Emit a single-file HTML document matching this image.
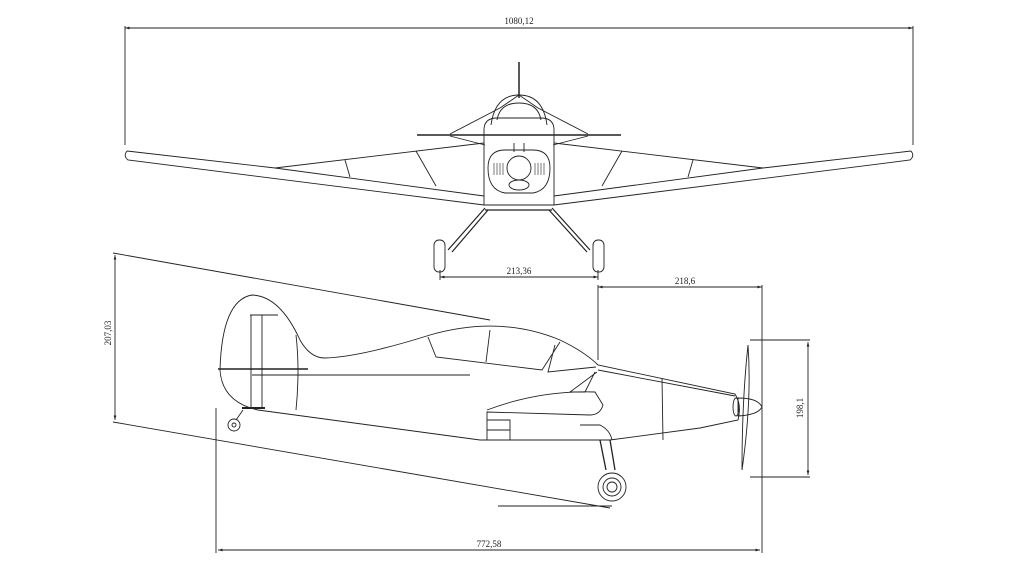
<!DOCTYPE html>
<html><head><style>html,body{margin:0;background:#fff}svg{display:block}</style></head>
<body>
<svg width="1024" height="581" viewBox="0 0 1024 581" xmlns="http://www.w3.org/2000/svg" font-family="Liberation Serif, serif" font-size="9">
<defs><marker id="a" viewBox="0 0 10 10" refX="10" refY="5" markerWidth="7" markerHeight="5" orient="auto-start-reverse"><path d="M0,2 L10,5 L0,8z" fill="#222"/></marker></defs>
<g fill="none" stroke="#222" stroke-width="0.9">
<!-- top dim -->
<line x1="125" y1="28" x2="913" y2="28" marker-start="url(#a)" marker-end="url(#a)"/>
<line x1="125" y1="26" x2="125" y2="145"/><line x1="913" y1="26" x2="913" y2="145"/>
<!-- wings front -->
<path d="M127,151 L275,168 L484,143 M127,151 Q123,156 128,160 L484,205"/>
<path d="M911,151 L763,168 L554,143 M911,151 Q915,156 910,160 L554,205"/>
<path d="M275,168 L484,196 M763,168 L554,196"/>
<line x1="345" y1="160" x2="350" y2="177"/><line x1="416" y1="151" x2="436" y2="186"/>
<line x1="693" y1="160" x2="688" y2="177"/><line x1="622" y1="151" x2="602" y2="186"/>
<!-- stab and fin -->
<line x1="417" y1="135" x2="621" y2="135" stroke-width="1.6"/>
<line x1="519" y1="62" x2="519" y2="98" stroke-width="1.5"/>
<path d="M450,134 L500,108 L519,95 L538,108 L588,134 M450,136 L485,145 M588,136 L553,145"/>
<path d="M491,125 Q495,95 519,95 Q543,95 547,125 M497,120 Q500,103 519,103 Q538,103 541,120"/>
<!-- fuselage front -->
<path d="M484,130 Q484,118 497,118 L541,118 Q554,118 554,130 L554,205 L484,205 Z"/>
<path d="M488,168 Q488,150 505,150 L533,150 Q550,150 550,168 Q550,190 533,193 L505,193 Q488,190 488,168Z"/>
<line x1="514" y1="143" x2="514" y2="152"/><line x1="524" y1="143" x2="524" y2="152"/>
<circle cx="519" cy="168" r="12"/>
<ellipse cx="519" cy="185" rx="10" ry="5"/>
<g stroke-width="0.6"><path d="M494,163 v12 M497,163 v12 M500,163 v12 M503,163 v12 M535,163 v12 M538,163 v12 M541,163 v12 M544,163 v12"/></g>
<!-- gear front -->
<line x1="485" y1="210" x2="552" y2="210" stroke-width="1.3"/>
<path d="M485,208 L448,250 M488,210 L452,252 M552,208 L590,250 M549,210 L587,252" stroke-width="1.2"/>
<rect x="434" y="240" width="11" height="32" rx="5"/><rect x="593" y="240" width="11" height="32" rx="5"/>
<line x1="440" y1="277" x2="598" y2="277" marker-start="url(#a)" marker-end="url(#a)"/>
<line x1="440" y1="270" x2="440" y2="280"/><line x1="598" y1="270" x2="598" y2="280"/>
<!-- side view dims -->
<line x1="113" y1="253" x2="490" y2="320"/><line x1="113" y1="422" x2="610" y2="508"/>
<line x1="115" y1="255" x2="115" y2="420" marker-start="url(#a)" marker-end="url(#a)"/>
<line x1="598" y1="287" x2="762" y2="287" marker-start="url(#a)" marker-end="url(#a)"/>
<line x1="598" y1="285" x2="598" y2="360"/><line x1="762" y1="285" x2="762" y2="553"/>
<line x1="750" y1="340" x2="810" y2="340"/><line x1="750" y1="477" x2="810" y2="477"/>
<line x1="808" y1="342" x2="808" y2="475" marker-start="url(#a)" marker-end="url(#a)"/>
<line x1="216" y1="408" x2="216" y2="553"/>
<line x1="218" y1="550" x2="760" y2="550" marker-start="url(#a)" marker-end="url(#a)"/>
<line x1="498" y1="506" x2="612" y2="506"/>
<!-- side fuselage -->
<path d="M258,410 Q222,402 220,370 Q222,300 252,295 Q280,296 300,340 Q310,358 325,358 Q360,357 430,335 Q500,315 560,340 Q585,352 598,365 L735,394 Q742,405 738,420 L700,428 L610,440 L480,440 Z"/>
<path d="M250,315 L278,315 M251,315 L251,408 M262,315 L262,408 M296,335 Q300,370 296,410"/>
<line x1="218" y1="369" x2="308" y2="369" stroke-width="1.6"/>
<line x1="252" y1="375" x2="470" y2="375"/>
<path d="M428,337 L436,357 L542,370 L560,342 M490,330 L486,362 M555,345 L548,372 L596,367"/>
<path d="M598,370 L735,396 M662,378 L663,440 M597,372 L570,392 L585,392 L595,372"/>
<path d="M487,410 Q540,390 595,392 L603,405 Q600,415 590,415 L487,412 L487,440 M487,420 L510,420 L510,440 M487,430 L510,430 M580,425 L600,425 Q610,430 612,440"/>
<path d="M242,408 L265,408" stroke-width="2"/>
<path d="M243,410 L236,420" /><circle cx="234" cy="425" r="6"/><circle cx="234" cy="425" r="2"/>
<path d="M600,440 L606,470 M610,440 L615,470" stroke-width="1.3"/>
<circle cx="612" cy="487" r="14"/><circle cx="612" cy="487" r="9"/><circle cx="612" cy="487" r="5"/>
<!-- prop -->
<path d="M748,345 Q742,400 742,470 Q752,400 748,345Z"/>
<path d="M738,398 Q758,398 762,407 Q758,415 738,416Z"/>
<ellipse cx="736" cy="407" rx="3" ry="9"/>
</g>
<g fill="#222" text-anchor="middle">
<text x="519" y="24">1080,12</text>
<text x="519" y="274">213,36</text>
<text x="685" y="284">218,6</text>
<text x="489" y="547">772,58</text>
<text transform="translate(111,333) rotate(-90)">207,03</text>
<text transform="translate(803,408) rotate(-90)">198,1</text>
</g>
</svg>
</body></html>
